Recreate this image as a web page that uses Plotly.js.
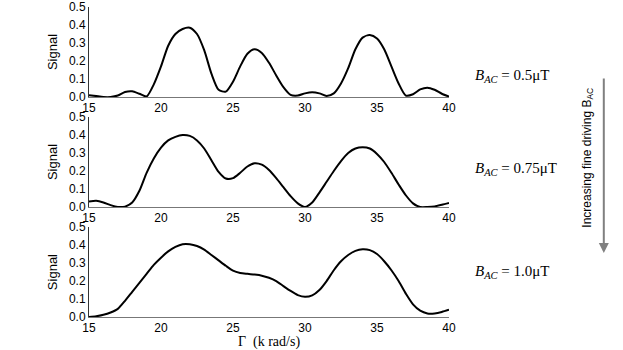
<!DOCTYPE html>
<html>
<head>
<meta charset="utf-8">
<script src="https://cdn.plot.ly/plotly-3.0.1.min.js"></script>
<style>
  html, body { margin: 0; padding: 0; background: #fff; }
  #chart { width: 623px; height: 350px; }
</style>
</head>
<body>
<div id="chart"></div>
<script>
// detuning axis, k rad/s
var gamma = [15, 15.5, 16, 16.5, 17, 17.5, 18, 18.5, 19, 19.5, 20, 20.5, 21, 21.5, 22, 22.5,
    23, 23.5, 24, 24.5, 25, 25.5, 26, 26.5, 27, 27.5, 28, 28.5, 29, 29.5, 30, 30.5, 31, 31.5,
    32, 32.5, 33, 33.5, 34, 34.5, 35, 35.5, 36, 36.5, 37, 37.5, 38, 38.5, 39, 39.5, 40];

var signal05 = [0.01, 0.005, 0.0, 0.0, 0.008, 0.028, 0.032, 0.018, 0.003, 0.07, 0.17, 0.285,
    0.35, 0.378, 0.385, 0.35, 0.26, 0.13, 0.04, 0.03, 0.085, 0.17, 0.24, 0.265, 0.245, 0.19,
    0.12, 0.055, 0.012, 0.008, 0.02, 0.026, 0.02, 0.006, 0.02, 0.075, 0.16, 0.265, 0.33, 0.344,
    0.325, 0.265, 0.17, 0.075, 0.008, 0.015, 0.042, 0.052, 0.04, 0.018, 0.002];

var signal075 = [0.03, 0.034, 0.025, 0.01, 0.0, 0.002, 0.025, 0.09, 0.19, 0.27, 0.33, 0.37,
    0.39, 0.4, 0.395, 0.37, 0.325, 0.26, 0.195, 0.158, 0.16, 0.19, 0.225, 0.243, 0.235, 0.205,
    0.16, 0.11, 0.06, 0.02, 0.0, 0.025, 0.08, 0.14, 0.2, 0.255, 0.3, 0.325, 0.332, 0.325,
    0.295, 0.25, 0.19, 0.125, 0.065, 0.02, 0.0, 0.0, 0.003, 0.012, 0.022];

var signal10 = [0.0, 0.004, 0.012, 0.025, 0.045, 0.09, 0.14, 0.19, 0.24, 0.29, 0.33, 0.365,
    0.39, 0.405, 0.405, 0.395, 0.375, 0.345, 0.315, 0.285, 0.258, 0.245, 0.24, 0.236, 0.23,
    0.218, 0.2, 0.172, 0.145, 0.122, 0.112, 0.12, 0.15, 0.2, 0.26, 0.31, 0.345, 0.368, 0.377,
    0.372, 0.35, 0.31, 0.26, 0.2, 0.13, 0.07, 0.035, 0.02, 0.02, 0.028, 0.04];

var fieldLabels = ['0.5μT', '0.75μT', '1.0μT'];

function makeTrace(y, n) {
    return {
        x: gamma, y: y,
        xaxis: 'x' + (n > 1 ? n : ''), yaxis: 'y' + (n > 1 ? n : ''),
        mode: 'lines', type: 'scatter',
        line: { color: '#000', width: 2, shape: 'spline', smoothing: 0.7 },
        hoverinfo: 'skip'
    };
}

var data = [makeTrace(signal05, 1), makeTrace(signal075, 2), makeTrace(signal10, 3)];

function xAx(anchor, withTitle) {
    var ax = {
        anchor: anchor, range: [15, 40], dtick: 5, showgrid: false, zeroline: false,
        showline: true, linecolor: '#777', linewidth: 1, ticks: '',
        tickfont: { family: 'Liberation Sans, Arial, sans-serif', size: 12, color: '#000' }
    };
    if (withTitle) {
        ax.title = { text: 'Γ  (k rad/s)', standoff: 2,
            font: { family: 'Liberation Serif, Times New Roman, serif', size: 14, color: '#000' } };
    }
    return ax;
}

function yAx(anchor, domain) {
    return {
        anchor: anchor, domain: domain, range: [0, 0.5], dtick: 0.1, tickformat: '.1f',
        showgrid: false, zeroline: false, showline: true, linecolor: '#333', linewidth: 1,
        ticks: '', ticklabelstandoff: 0,
        tickfont: { family: 'Liberation Sans, Arial, sans-serif', size: 12, color: '#000' },
        title: { text: 'Signal', standoff: 8,
            font: { family: 'Liberation Sans, Arial, sans-serif', size: 13, color: '#000' } }
    };
}

var labelY = [0.778, 0.478, 0.145];
var annotations = labelY.map(function (y, i) {
    return {
        xref: 'paper', yref: 'paper', x: 1.067, y: y, xanchor: 'left', yanchor: 'middle',
        showarrow: false,
        text: '<i>B</i><sub><i>AC</i></sub> = ' + fieldLabels[i],
        font: { family: 'Liberation Serif, Times New Roman, serif', size: 15, color: '#000' }
    };
});

// downward arrow
annotations.push({
    xref: 'paper', yref: 'paper', x: 1.43, y: 0.2065, ax: 0, ay: -176,
    showarrow: true, arrowhead: 2, arrowsize: 1, arrowwidth: 2, arrowcolor: '#808080', text: ''
});
annotations.push({
    xref: 'paper', yref: 'paper', x: 1.413, y: 0.513, showarrow: false, textangle: -90,
    text: 'Increasing fine driving B<sub>AC</sub>',
    font: { family: 'Liberation Sans, Arial, sans-serif', size: 12, color: '#000' }
});

var layout = {
    width: 623, height: 350,
    margin: { l: 89, r: 174, t: 7, b: 33 },
    paper_bgcolor: '#fff', plot_bgcolor: '#fff',
    showlegend: false,
    xaxis: xAx('y', false),
    xaxis2: xAx('y2', false),
    xaxis3: xAx('y3', true),
    yaxis: yAx('x', [0.7097, 1]),
    yaxis2: yAx('x2', [0.355, 0.645]),
    yaxis3: yAx('x3', [0, 0.29]),
    annotations: annotations
};

Plotly.newPlot('chart', data, layout, { displayModeBar: false, staticPlot: true });
</script>
</body>
</html>
